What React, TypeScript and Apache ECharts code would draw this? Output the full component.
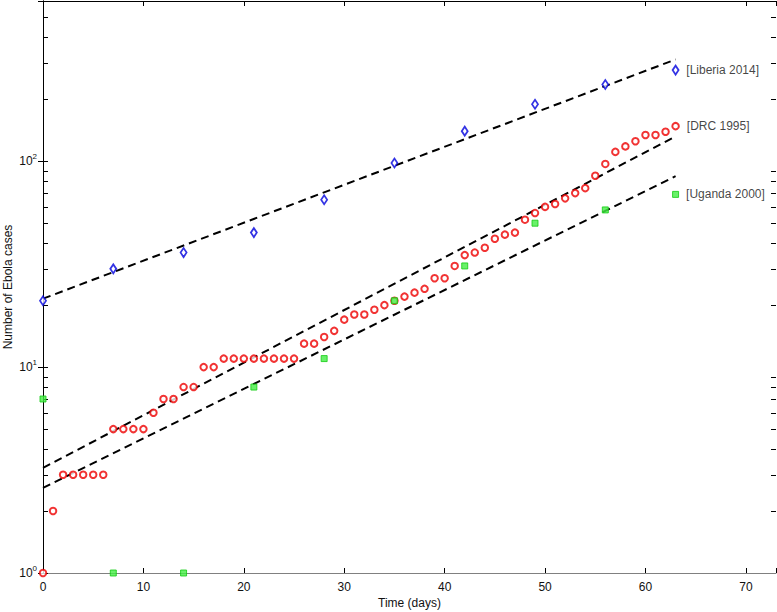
import React, { useEffect, useRef } from "react";
import * as echarts from "echarts";

const drcDays = Array.from({ length: 64 }, (_, i) => i);
const drcCases = [1, 2, 3, 3, 3, 3, 3, 5, 5, 5, 5, 6, 7, 7, 8, 8, 10, 10, 11, 11, 11, 11, 11, 11, 11, 11, 13, 13, 14, 15, 17, 18, 18, 19, 20, 21, 22, 23, 24, 27, 27, 31, 35, 36, 38, 42, 44, 45, 52, 56, 60, 62, 66, 70, 74, 85, 97, 111, 118, 125, 134, 134, 139, 148];
const weeklyDays = [0, 7, 14, 21, 28, 35, 42, 49, 56, 63];
const liberiaCases = [21, 30, 36, 45, 65, 98, 140, 189, 236, 277];
const ugandaCases = [7, 1, 1, 8, 11, 21, 31, 50, 58, 69];
const fitDays = [0, 63];
const liberiaFit = [21.5, 312];
const drcFit = [3.24, 132];
const ugandaFit = [2.59, 84.6];
const minorTickValues = [2, 3, 4, 5, 6, 7, 8, 9, 20, 30, 40, 50, 60, 70, 80, 90, 200, 300, 400, 500];
const seriesLabels = ["[Liberia 2014]", "[DRC 1995]", "[Uganda 2000]"];

const FONT = "Liberation Sans, Arial, Helvetica, sans-serif";
const TXT = "#111";

function withEndLabel(xs: number[], ys: number[], text: string) {
  return xs.map((x, i) =>
    i === xs.length - 1
      ? {
          value: [x, ys[i]],
          label: {
            show: true,
            position: "right",
            distance: 7,
            formatter: text,
            fontFamily: FONT,
            fontSize: 12,
            color: TXT,
          },
        }
      : [x, ys[i]]
  );
}

function pairs(xs: number[], ys: number[]) {
  return xs.map((x, i) => [x, ys[i]]);
}

export default function App() {
  const ref = useRef<HTMLDivElement>(null);
  useEffect(() => {
    if (!ref.current) return;
    const chart = echarts.init(ref.current, null, { renderer: "svg" });
    const yLabel = (v: number) => {
      const l = Math.log10(v);
      const e = Math.round(l);
      if (Math.abs(l - e) > 1e-6) return "";
      return `{b|10}{s|${e}}`;
    };
    const fitStyle = { color: "#000", width: 2, type: [8, 5] as any };
    chart.setOption({
      animation: false,
      grid: { left: 43, right: 1, top: 1, bottom: 39, containLabel: false, outerBoundsMode: "none" },
      xAxis: [
        {
          type: "value",
          min: 0,
          max: 73,
          interval: 10,
          position: "bottom",
          name: "Time (days)",
          nameLocation: "middle",
          nameGap: 24,
          nameMoveOverlap: false,
          nameTextStyle: { fontFamily: FONT, fontSize: 12, color: TXT },
          axisLine: { show: true, lineStyle: { color: "#808080", width: 1 } },
          axisTick: { show: true, inside: true, length: 5, lineStyle: { color: "#000" } },
          axisLabel: {
            margin: 8,
            fontFamily: FONT,
            fontSize: 12,
            color: TXT,
            formatter: (v: number) => (v % 10 === 0 ? String(v) : ""),
          },
          splitLine: { show: false },
        },
        {
          type: "value",
          min: 0,
          max: 73,
          interval: 10,
          position: "top",
          axisLine: { show: true, lineStyle: { color: "#000", width: 1 } },
          axisTick: { show: true, inside: true, length: 5, lineStyle: { color: "#000" } },
          axisLabel: { show: false },
          splitLine: { show: false },
        },
      ],
      yAxis: [
        {
          type: "log",
          logBase: 10,
          min: 1,
          max: 600,
          interval: 1,
          position: "left",
          name: "Number of Ebola cases",
          nameLocation: "middle",
          nameGap: 29,
          nameMoveOverlap: false,
          nameTextStyle: { fontFamily: FONT, fontSize: 12, color: TXT },
          axisLine: { show: true, lineStyle: { color: "#000", width: 1 } },
          axisTick: { show: true, inside: true, length: 5, lineStyle: { color: "#000" } },
          axisLabel: {
            margin: 6,
            formatter: yLabel,
            rich: {
              b: { fontFamily: FONT, fontSize: 12, color: TXT, lineHeight: 18 },
              s: { fontFamily: FONT, fontSize: 8, color: TXT, lineHeight: 10, verticalAlign: "top" },
            },
          },
          splitLine: { show: false },
        },
        {
          type: "log",
          logBase: 10,
          min: 1,
          max: 600,
          interval: 1,
          position: "right",
          axisLine: { show: true, lineStyle: { color: "#000", width: 1 } },
          axisTick: { show: true, inside: true, length: 5, lineStyle: { color: "#000" } },
          axisLabel: { show: false },
          splitLine: { show: false },
        },
      ],
      series: [
        {
          type: "custom",
          silent: true,
          clip: false,
          encode: { x: 0, y: 1 },
          data: minorTickValues.map((v) => [0, v]),
          renderItem: (params: any, api: any) => {
            const p = api.coord([0, api.value(1)]);
            const cs = params.coordSys;
            const y = Math.round(p[1]) + 0.5;
            return {
              type: "group",
              children: [
                { type: "line", shape: { x1: cs.x, y1: y, x2: cs.x + 5, y2: y }, style: { stroke: "#000", lineWidth: 1 } },
                { type: "line", shape: { x1: cs.x + cs.width, y1: y, x2: cs.x + cs.width - 5, y2: y }, style: { stroke: "#000", lineWidth: 1 } },
              ],
            };
          },
        },
        { type: "line", data: pairs(fitDays, liberiaFit), symbol: "none", lineStyle: fitStyle, z: 2 },
        { type: "line", data: pairs(fitDays, drcFit), symbol: "none", lineStyle: fitStyle, z: 2 },
        { type: "line", data: pairs(fitDays, ugandaFit), symbol: "none", lineStyle: fitStyle, z: 2 },
        {
          type: "scatter",
          data: withEndLabel(drcDays, drcCases, seriesLabels[1]),
          symbol: "circle",
          symbolSize: 6.5,
          itemStyle: { color: "#fff", borderColor: "#ee0000", borderWidth: 2 },
          z: 3,
        },
        {
          type: "scatter",
          data: withEndLabel(weeklyDays, ugandaCases, seriesLabels[2]),
          symbol: "rect",
          symbolSize: 6,
          itemStyle: { color: "#44ee44", borderColor: "#11cc11", borderWidth: 1 },
          z: 4,
        },
        {
          type: "scatter",
          data: withEndLabel(weeklyDays, liberiaCases, seriesLabels[0]),
          symbol: "diamond",
          symbolSize: [6, 9],
          itemStyle: { color: "#fff", borderColor: "#0000dd", borderWidth: 1.8 },
          z: 4,
        },
      ],
    });
    return () => chart.dispose();
  }, []);
  return (
    <div
      ref={ref}
      style={{ position: "fixed", left: 0, top: 0, width: 777, height: 612, background: "#fff" }}
    />
  );
}
